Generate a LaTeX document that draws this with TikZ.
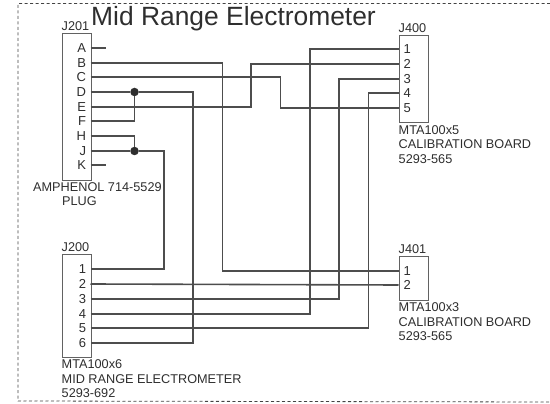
\documentclass[tikz,border=0pt]{standalone}
\usepackage{fontspec}
\setmainfont{Liberation Sans}
\usepackage{tikz}
\usetikzlibrary{positioning}

\definecolor{ink}{gray}{0.18}

\begin{document}
\begin{tikzpicture}
	[x=1pt,y=-1pt,ink,
		conn box/.style={draw=ink!75,line width=0.6pt,inner sep=0pt,minimum width=29pt,anchor=north west},
		pin left/.style={anchor=east,inner ysep=0pt,inner xsep=4.5pt,outer sep=0pt,text height=9.3pt,text depth=0pt,font=\fontsize{13}{14}\selectfont},
		pin right/.style={anchor=west,inner ysep=0pt,inner xsep=5pt,outer sep=0pt,text height=9.3pt,text depth=0pt,font=\fontsize{13}{14}\selectfont},
		caption/.style={anchor=north west,inner sep=0pt,align=left,font=\fontsize{12.7}{14.6}\selectfont},
		wire/.style={line width=1.6pt,ink!85},
		junction/.style={circle,fill=ink,inner sep=0pt,minimum size=8.5pt}]

	\useasboundingbox (0,0) rectangle (550,404);

	% sheet frame, open on the right
	\draw[line width=0.8pt,ink!90,dash pattern=on 3pt off 2.5pt] (550,3.5) -- (18,3.5) -- (18,401) -- (550,402);

	\node[anchor=west,inner sep=0pt,font=\fontsize{26.4}{28}\selectfont] (title) at (91,19) {Mid Range Electrometer};

	\node[conn box,minimum height=147pt] (J201) at (61.5,33) {};
	\node[conn box,minimum height=87.5pt] (J400) at (398.5,35) {};
	\node[conn box,minimum height=103pt] (J200) at (61.5,254) {};
	\node[conn box,minimum height=44pt] (J401) at (398.5,256) {};

	\node[caption,above right=2.5pt and 0pt of J201.north west] (J201name) {J201};
	\node[caption,above right=2.5pt and 0pt of J400.north west] (J400name) {J400};
	\node[caption,above right=2.5pt and 0pt of J200.north west] (J200name) {J200};
	\node[caption,above right=2.5pt and 0pt of J401.north west] (J401name) {J401};

	\foreach \name/\ypos in {A/48,B/63,C/77,D/92,E/107,F/121,H/136,J/151,K/165}
		\node[pin left] (J201-\name) at (90.5,\ypos) {\name};
	\foreach \name/\ypos in {1/269,2/284,3/299,4/314,5/328,6/343}
		\node[pin left] (J200-\name) at (90.5,\ypos) {\name};
	\foreach \name/\ypos in {1/49,2/64,3/79,4/93,5/108}
		\node[pin right] (J400-\name) at (398.5,\ypos) {\name};
	\foreach \name/\ypos in {1/271,2/285}
		\node[pin right] (J401-\name) at (398.5,\ypos) {\name};

	\node[caption] (J201cap) at (33,182) {AMPHENOL 714-5529};
	\node[caption] (J201plug) at (62,196) {PLUG};
	\node[caption,below right=2pt and 0pt of J400.south west] (J400cap) {MTA100x5\\CALIBRATION BOARD\\5293-565};
	\node[caption,below right=2pt and 0pt of J200.south west] (J200cap) {MTA100x6\\MID RANGE ELECTROMETER\\5293-692};
	\node[caption,below right=2pt and 0pt of J401.south west] (J401cap) {MTA100x3\\CALIBRATION BOARD\\5293-565};

	\node[junction] (dotD) at (134.5,92) {};
	\node[junction] (dotJ) at (134.5,151) {};

	\coordinate (stubA) at (105.5,48);
	\coordinate (stubK) at (105.5,165);
	\coordinate (colB) at (222.5,200);
	\coordinate (colC) at (280.5,90);
	\coordinate (colD) at (193,200);
	\coordinate (colE) at (251,90);
	\coordinate (colJ) at (164,200);
	\coordinate (col3) at (339,200);
	\coordinate (col4) at (310,200);
	\coordinate (col5) at (368.5,200);

	\draw[wire] (J201-A.east) -- (stubA);
	\draw[wire] (J201-K.east) -- (stubK);
	\draw[wire] (J201-B.east) -| (colB) |- (J401-1.west);
	\draw[wire] (J201-C.east) -| (colC) |- (J400-5.west);
	\draw[wire] (J201-D.east) -- (dotD) -| (colD) |- (J200-6.east);
	\draw[wire] (J201-E.east) -| (colE) |- (J400-2.west);
	\draw[wire] (J201-F.east) -| (dotD);
	\draw[wire] (J201-H.east) -| (dotJ);
	\draw[wire] (J201-J.east) -- (dotJ) -| (colJ) |- (J200-1.east);
	\draw[wire] (J200-2.east) -- (J401-2.west);
	\draw[wire] (J200-3.east) -| (col3) |- (J400-3.west);
	\draw[wire] (J200-4.east) -| (col4) |- (J400-1.west);
	\draw[wire] (J200-5.east) -| (col5) |- (J400-4.west);

\end{tikzpicture}
\end{document}
